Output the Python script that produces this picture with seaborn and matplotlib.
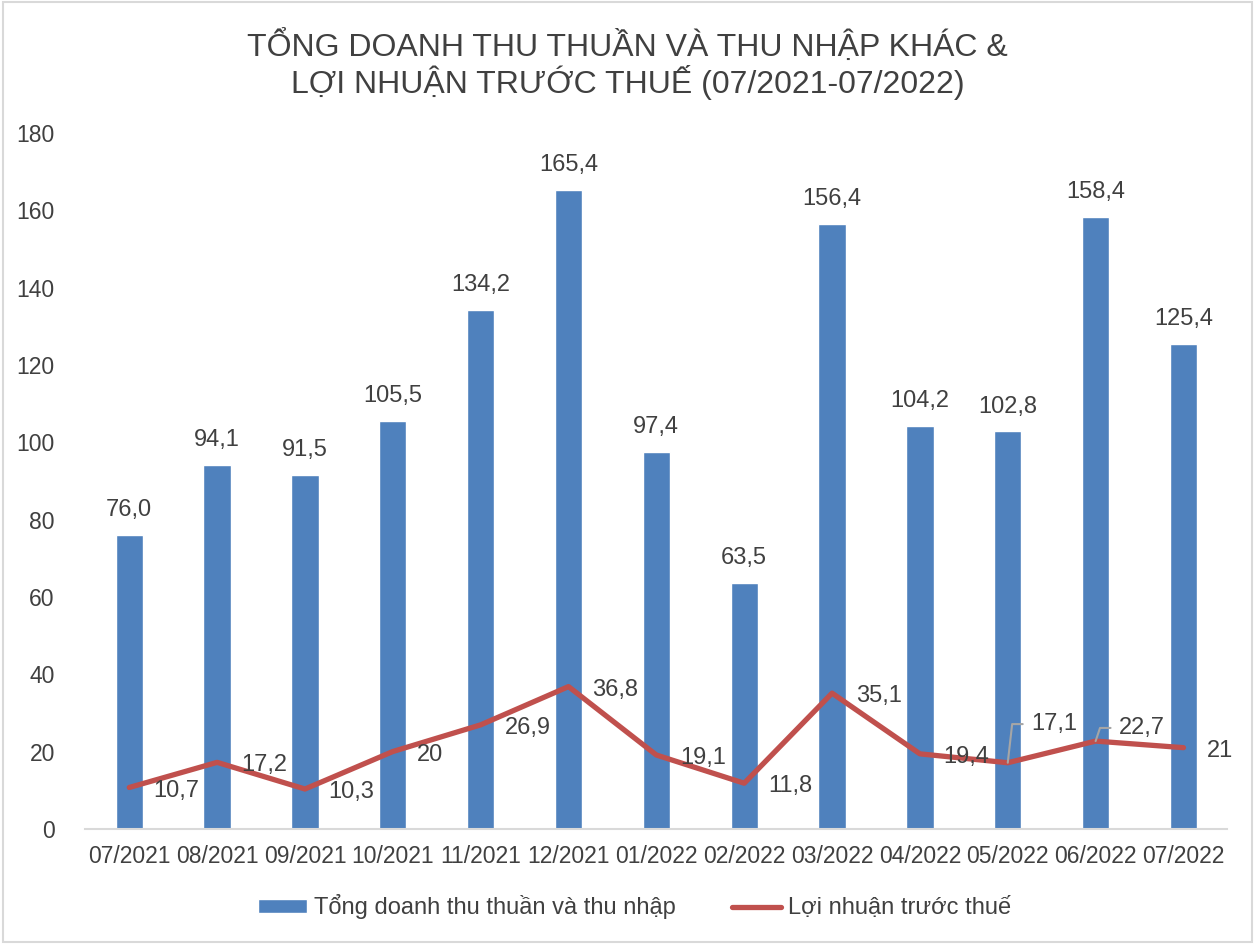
import matplotlib
matplotlib.use("Agg")
import matplotlib.pyplot as plt
import seaborn as sns
import pandas as pd

months = ["07/2021", "08/2021", "09/2021", "10/2021", "11/2021", "12/2021", "01/2022",
          "02/2022", "03/2022", "04/2022", "05/2022", "06/2022", "07/2022"]
revenue = [76.0, 94.1, 91.5, 105.5, 134.2, 165.4, 97.4, 63.5, 156.4, 104.2, 102.8, 158.4, 125.4]
profit = [10.7, 17.2, 10.3, 20, 26.9, 36.8, 19.1, 11.8, 35.1, 19.4, 17.1, 22.7, 21]
profit_labels = ["10,7", "17,2", "10,3", "20", "26,9", "36,8", "19,1", "11,8", "35,1",
                 "19,4", "17,1", "22,7", "21"]

sns.set_theme(style="white")
plt.rcParams["font.family"] = ["Liberation Sans", "DejaVu Sans"]

bar_color = "#4f81bd"
line_color = "#c0504d"
text_color = "#404040"

df = pd.DataFrame({"month": months, "revenue": revenue, "profit": profit})

fig = plt.figure(figsize=(12.55, 9.44), dpi=100)
ax = fig.add_axes([0.068, 0.122, 0.910, 0.737])

sns.barplot(data=df, x="month", y="revenue", color=bar_color, width=0.31,
            saturation=1, ax=ax, label="Tổng doanh thu thuần và thu nhập")
sns.lineplot(x=range(len(months)), y=profit, color=line_color, linewidth=3.8,
             ax=ax, label="Lợi nhuận trước thuế")

# bar labels (comma decimal)
for i, v in enumerate(revenue):
    ax.text(i, v + 3.6, f"{v:.1f}".replace(".", ","), ha="center", va="bottom",
            fontsize=17, color=text_color)

# line labels to the right of each point; two were moved up with a leader line
lifted = {"17,1": 10, "22,7": 3.4}
for i, (v, lab) in enumerate(zip(profit, profit_labels)):
    if lab in lifted:
        dy = lifted[lab]
        ax.plot([i, i + 0.05, i + 0.17], [v, v + dy, v + dy], color="#a6a6a6", lw=1.5)
        ax.text(i + 0.27, v + dy, lab, ha="left", va="center", fontsize=17, color=text_color)
    else:
        ax.text(i + 0.27, v - 0.8, lab, ha="left", va="center", fontsize=17, color=text_color)

ax.set_ylim(0, 180)
ax.set_yticks(range(0, 181, 20))
ax.set_xlim(-0.5, len(months) - 0.5)
ax.set_xlabel("")
ax.set_ylabel("")
ax.tick_params(axis="both", labelsize=16.5, colors=text_color, length=0)
ax.tick_params(axis="x", pad=12)
ax.tick_params(axis="y", pad=22)

sns.despine(ax=ax, left=True)
ax.spines["bottom"].set_color("#d9d9d9")
ax.spines["bottom"].set_linewidth(1.5)

fig.suptitle("TỔNG DOANH THU THUẦN VÀ THU NHẬP KHÁC &\nLỢI NHUẬN TRƯỚC THUẾ (07/2021-07/2022)",
             y=0.968, fontsize=23, color=text_color, linespacing=1.05)

handles, labels = ax.get_legend_handles_labels()
order = [labels.index("Tổng doanh thu thuần và thu nhập"), labels.index("Lợi nhuận trước thuế")]
ax.legend([handles[k] for k in order], [labels[k] for k in order],
          loc="center", bbox_to_anchor=(0.481, -0.112), ncol=2, frameon=False,
          fontsize=17, labelcolor=text_color, handlelength=2.05, handleheight=0.55,
          handletextpad=0.3, columnspacing=2.4)

# thin grey frame around the whole figure
fig.patches.append(plt.Rectangle((0.002, 0.002), 0.996, 0.996, transform=fig.transFigure,
                                 fill=False, edgecolor="#d9d9d9", lw=1.5))

plt.savefig("out.png", dpi=100)
